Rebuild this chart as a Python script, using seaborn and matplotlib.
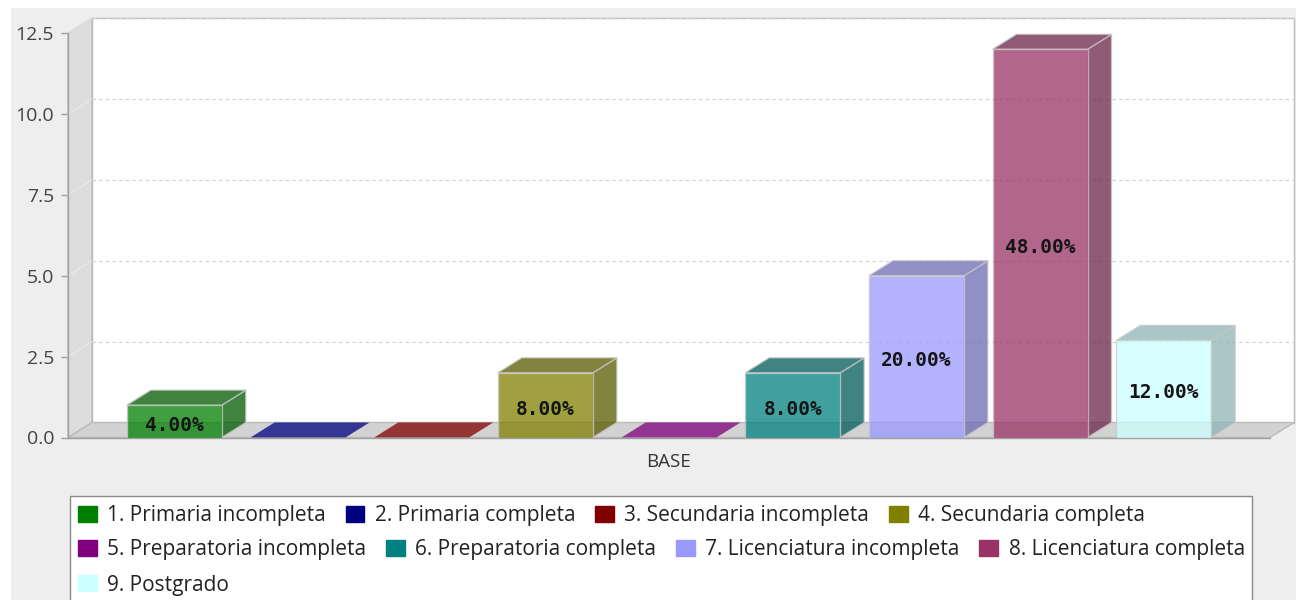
import matplotlib
matplotlib.use("Agg")
import matplotlib.pyplot as plt
import matplotlib.patches as mpatches
from matplotlib.colors import to_rgb
import pandas as pd
import seaborn as sns

# datos del grafico #

categories = ["1. Primaria incompleta", "2. Primaria completa", "3. Secundaria incompleta",
              "4. Secundaria completa", "5. Preparatoria incompleta", "6. Preparatoria completa",
              "7. Licenciatura incompleta", "8. Licenciatura completa", "9. Postgrado"]
counts = [1, 0, 0, 2, 0, 2, 5, 12, 3]
colors = ["#008000", "#000080", "#800000", "#808000", "#800080", "#008080",
          "#9999FF", "#993366", "#CCFFFF"]
group = "BASE"
y_ticks = [0, 2.5, 5, 7.5, 10, 12.5]

total = sum(counts)
bar_labels = ["%.2f%%" % (c / total * 100) if c else "" for c in counts]

sns.set_style("white")
plt.rcParams['font.family'] = ['Open Sans', 'DejaVu Sans']

W, H = 1296, 600
fig = plt.figure(figsize=(W / 100, H / 100), dpi=100, facecolor="white")
fig.patches.append(mpatches.Rectangle((11 / W, -0.01), 1, 1.01 - 8 / H, transform=fig.transFigure,
                                      facecolor="#EEEEEE", edgecolor="none", zorder=-10))

# front plane of the 3d plot, in pixels: x 68..1270, y 437.5..33
ax_w, ax_h = 1202, 404.4
ax = fig.add_axes([68 / W, (H - 437.5) / H, ax_w / W, ax_h / H])
ax.set_facecolor("none")

df = pd.DataFrame({"grupo": [group] * len(categories), "nivel": categories, "n": counts})
sns.barplot(data=df, x="grupo", y="n", hue="nivel", hue_order=categories, palette=colors,
            saturation=1, width=0.926, gap=0.232, alpha=0.75, edgecolor="#C8C8C8", linewidth=1,
            errorbar=None, legend=False, ax=ax, zorder=3)
bars = list(ax.patches)

x0, x1 = -0.5, 0.5
top = 12.5
ax.set_xlim(x0, x1)
ax.set_ylim(0, top)
dx = 24 / ax_w * (x1 - x0)
dy = 15 / ax_h * top
px = top / ax_h  # one pixel in y data units

# walls and floor #
ax.add_patch(mpatches.Rectangle((x0 + dx, dy), x1 - x0, top, facecolor="white",
                                edgecolor="#BBBBBB", lw=1, zorder=0, clip_on=False))
ax.add_patch(mpatches.Polygon([(x0, 0), (x0 + dx, dy), (x0 + dx, top + dy), (x0, top)],
                              facecolor="#DDDDDD", edgecolor="#BBBBBB", lw=1, zorder=1, clip_on=False))
ax.add_patch(mpatches.Polygon([(x0, 0), (x1, 0), (x1 + dx, dy), (x0 + dx, dy)],
                              facecolor="#D2D2D2", edgecolor="#BBBBBB", lw=1, zorder=1, clip_on=False))

for v in y_ticks[1:]:
    ax.plot([x0 + dx, x1 + dx], [v + dy, v + dy], ls=(0, (3, 3)), color="#D0D0D0", lw=0.8,
            zorder=0.5, clip_on=False)
    ax.plot([x0, x0 + dx], [v, v + dy], color="#EAEAEA", lw=0.8, zorder=1.5, clip_on=False)

# 3d sides and tops of the bars #
for bar, col, lab in zip(bars, colors, bar_labels):
    x, w, h = bar.get_x(), bar.get_width(), bar.get_height()
    dark = tuple(c * 0.7 for c in to_rgb(col))
    if h > 0:
        ax.add_patch(mpatches.Polygon([(x + w, 0), (x + w, h), (x + w + dx, h + dy), (x + w + dx, dy)],
                                      facecolor=dark, alpha=0.75, edgecolor="#C8C8C8", lw=1,
                                      zorder=2, clip_on=False))
        ax.add_patch(mpatches.Polygon([(x, h), (x + w, h), (x + w + dx, h + dy), (x + dx, h + dy)],
                                      facecolor=dark, alpha=0.75, edgecolor="#C8C8C8", lw=1,
                                      zorder=2, clip_on=False))
        ax.text(x + w / 2, h / 2 - 4 * px, lab, ha="center", va="center", family="DejaVu Sans Mono",
                weight="bold", size=14, color="#151515", zorder=5)
    else:
        ax.add_patch(mpatches.Polygon([(x, 0), (x + w, 0), (x + w + dx, dy), (x + dx, dy)],
                                      facecolor=col, alpha=0.75, edgecolor="none",
                                      zorder=2, clip_on=False))

ax.set_xlabel("")
ax.set_ylabel("")
ax.set_yticks(y_ticks)
ax.set_yticklabels(["%.1f" % v for v in y_ticks])
for s in ["top", "right"]:
    ax.spines[s].set_visible(False)
for s in ["left", "bottom"]:
    ax.spines[s].set_color("#A0A0A0")
    ax.spines[s].set_linewidth(1)
    ax.spines[s].set_zorder(1.6)
ax.tick_params(axis="y", left=True, length=5, width=1, color="#A0A0A0", labelsize=14,
               labelcolor="#444444", pad=5)
ax.tick_params(axis="x", bottom=False, length=0, labelsize=13.5, labelcolor="#333333", pad=11)

# legend box with flowing rows #
fig.patches.append(mpatches.Rectangle((70 / W, -0.05), (1252 - 70) / W, 0.05 + (H - 496) / H,
                                      transform=fig.transFigure, facecolor="white",
                                      edgecolor="#8A8A8A", lw=1, zorder=1))
rows = [[0, 1, 2, 3], [4, 5, 6, 7], [8]]
row_y = [516, 550, 585]
for idx, ry in zip(rows, row_y):
    handles = [mpatches.Patch(facecolor=colors[i], edgecolor=colors[i], label=categories[i]) for i in idx]
    leg = fig.legend(handles=handles, loc="center left", bbox_to_anchor=(78 / W, 1 - ry / H),
                     ncol=len(idx), frameon=False, fontsize=15, handlelength=0.9,
                     handleheight=0.83, handletextpad=0.5, columnspacing=0.95,
                     borderpad=0, borderaxespad=0, labelcolor="#222222")
    leg.set_zorder(5)

fig.savefig("out.png", dpi=100)
